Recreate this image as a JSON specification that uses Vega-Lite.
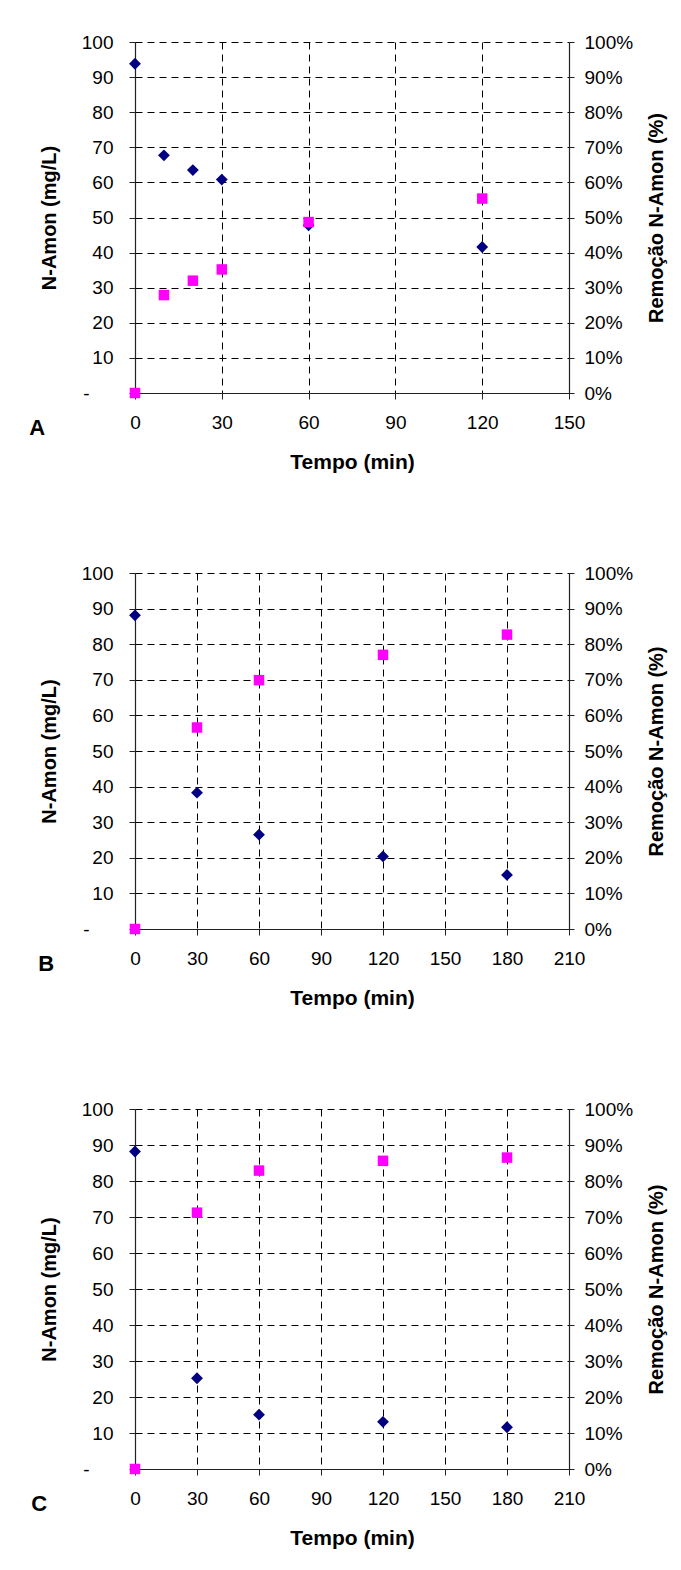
{
  "$schema": "https://vega.github.io/schema/vega-lite/v6.json",
  "padding": {"top": 33, "left": 29, "right": 5, "bottom": 5},
  "background": "white",
  "datasets": {
    "A": [
      {"t": 0, "conc": 93.8, "rem": 0},
      {"t": 10, "conc": 67.7, "rem": 27.9},
      {"t": 20, "conc": 63.5, "rem": 32.0},
      {"t": 30, "conc": 60.8, "rem": 35.2},
      {"t": 60, "conc": 47.8, "rem": 48.7},
      {"t": 120, "conc": 41.6, "rem": 55.4}
    ],
    "B": [
      {"t": 0, "conc": 88.1, "rem": 0},
      {"t": 30, "conc": 38.3, "rem": 56.6},
      {"t": 60, "conc": 26.5, "rem": 69.9},
      {"t": 120, "conc": 20.4, "rem": 77.0},
      {"t": 180, "conc": 15.2, "rem": 82.7}
    ],
    "C": [
      {"t": 0, "conc": 88.2, "rem": 0},
      {"t": 30, "conc": 25.2, "rem": 71.2},
      {"t": 60, "conc": 15.1, "rem": 82.9},
      {"t": 120, "conc": 13.1, "rem": 85.6},
      {"t": 180, "conc": 11.6, "rem": 86.5}
    ]
  },
  "spacing": 92,
  "vconcat": [
    {
      "width": 434, "height": 351,
      "data": {"name": "A"},
      "title": {"text": "A", "orient": "bottom", "anchor": "start", "frame": "bounds", "offset": -54, "dx": -10, "fontSize": 22, "fontWeight": "bold", "font": "Liberation Sans", "color": "#000"},
      "layer": [
        {
          "mark": {"type": "point", "shape": "diamond", "filled": true, "size": 140, "color": "#000080", "opacity": 1},
          "encoding": {
            "x": {"field": "t", "type": "quantitative", "scale": {"domain": [0, 150], "nice": false},
              "axis": {"title": "Tempo (min)", "titleFontSize": 21, "values": [0, 30, 60, 90, 120, 150], "tickSize": 6, "labelPadding": 14, "titlePadding": 19, "grid": true, "labelFlush": false, "labelOverlap": false}},
            "y": {"field": "conc", "type": "quantitative", "scale": {"domain": [0, 100], "nice": false},
              "axis": {"title": "N-Amon (mg/L)", "values": [0, 10, 20, 30, 40, 50, 60, 70, 80, 90, 100], "labelExpr": "datum.value == 0 ? '-' : datum.label", "labelPadding": {"condition": {"test": "datum.value == 0", "value": 40}, "value": 16}, "tickSize": 6, "titlePadding": 22, "grid": true, "labelOverlap": false}}
          }
        },
        {
          "mark": {"type": "point", "shape": "square", "filled": true, "size": 110, "color": "#FF00FF", "opacity": 1},
          "encoding": {
            "x": {"field": "t", "type": "quantitative"},
            "y": {"field": "rem", "type": "quantitative", "scale": {"domain": [0, 100], "nice": false},
              "axis": {"orient": "right", "title": "Remoção N-Amon (%)", "values": [0, 10, 20, 30, 40, 50, 60, 70, 80, 90, 100], "labelExpr": "datum.value + '%'", "grid": false, "tickSize": 5, "labelPadding": 10, "titleAngle": -90, "titleBaseline": "top", "titlePadding": 14, "labelOverlap": false}}
          }
        }
      ],
      "resolve": {"scale": {"y": "independent"}}
    },
    {
      "width": 434, "height": 356,
      "data": {"name": "B"},
      "title": {"text": "B", "orient": "bottom", "anchor": "start", "frame": "bounds", "offset": -54, "dx": -1, "fontSize": 22, "fontWeight": "bold", "font": "Liberation Sans", "color": "#000"},
      "layer": [
        {
          "mark": {"type": "point", "shape": "diamond", "filled": true, "size": 140, "color": "#000080", "opacity": 1},
          "encoding": {
            "x": {"field": "t", "type": "quantitative", "scale": {"domain": [0, 210], "nice": false},
              "axis": {"title": "Tempo (min)", "titleFontSize": 21, "values": [0, 30, 60, 90, 120, 150, 180, 210], "tickSize": 6, "labelPadding": 14, "titlePadding": 19, "grid": true, "labelFlush": false, "labelOverlap": false}},
            "y": {"field": "conc", "type": "quantitative", "scale": {"domain": [0, 100], "nice": false},
              "axis": {"title": "N-Amon (mg/L)", "values": [0, 10, 20, 30, 40, 50, 60, 70, 80, 90, 100], "labelExpr": "datum.value == 0 ? '-' : datum.label", "labelPadding": {"condition": {"test": "datum.value == 0", "value": 40}, "value": 16}, "tickSize": 6, "titlePadding": 22, "grid": true, "labelOverlap": false}}
          }
        },
        {
          "mark": {"type": "point", "shape": "square", "filled": true, "size": 110, "color": "#FF00FF", "opacity": 1},
          "encoding": {
            "x": {"field": "t", "type": "quantitative"},
            "y": {"field": "rem", "type": "quantitative", "scale": {"domain": [0, 100], "nice": false},
              "axis": {"orient": "right", "title": "Remoção N-Amon (%)", "values": [0, 10, 20, 30, 40, 50, 60, 70, 80, 90, 100], "labelExpr": "datum.value + '%'", "grid": false, "tickSize": 5, "labelPadding": 10, "titleAngle": -90, "titleBaseline": "top", "titlePadding": 14, "labelOverlap": false}}
          }
        }
      ],
      "resolve": {"scale": {"y": "independent"}}
    },
    {
      "width": 434, "height": 360,
      "data": {"name": "C"},
      "title": {"text": "C", "orient": "bottom", "anchor": "start", "frame": "bounds", "offset": -54, "dx": -8, "fontSize": 22, "fontWeight": "bold", "font": "Liberation Sans", "color": "#000"},
      "layer": [
        {
          "mark": {"type": "point", "shape": "diamond", "filled": true, "size": 140, "color": "#000080", "opacity": 1},
          "encoding": {
            "x": {"field": "t", "type": "quantitative", "scale": {"domain": [0, 210], "nice": false},
              "axis": {"title": "Tempo (min)", "titleFontSize": 21, "values": [0, 30, 60, 90, 120, 150, 180, 210], "tickSize": 6, "labelPadding": 14, "titlePadding": 19, "grid": true, "labelFlush": false, "labelOverlap": false}},
            "y": {"field": "conc", "type": "quantitative", "scale": {"domain": [0, 100], "nice": false},
              "axis": {"title": "N-Amon (mg/L)", "values": [0, 10, 20, 30, 40, 50, 60, 70, 80, 90, 100], "labelExpr": "datum.value == 0 ? '-' : datum.label", "labelPadding": {"condition": {"test": "datum.value == 0", "value": 40}, "value": 16}, "tickSize": 6, "titlePadding": 22, "grid": true, "labelOverlap": false}}
          }
        },
        {
          "mark": {"type": "point", "shape": "square", "filled": true, "size": 110, "color": "#FF00FF", "opacity": 1},
          "encoding": {
            "x": {"field": "t", "type": "quantitative"},
            "y": {"field": "rem", "type": "quantitative", "scale": {"domain": [0, 100], "nice": false},
              "axis": {"orient": "right", "title": "Remoção N-Amon (%)", "values": [0, 10, 20, 30, 40, 50, 60, 70, 80, 90, 100], "labelExpr": "datum.value + '%'", "grid": false, "tickSize": 5, "labelPadding": 10, "titleAngle": -90, "titleBaseline": "top", "titlePadding": 14, "labelOverlap": false}}
          }
        }
      ],
      "resolve": {"scale": {"y": "independent"}}
    }
  ],
  "config": {
    "font": "Liberation Sans",
    "view": {"stroke": null},
    "axis": {
      "labelFont": "Liberation Sans", "labelFontSize": 19, "labelColor": "#000",
      "titleFont": "Liberation Sans", "titleFontSize": 20, "titleFontWeight": "bold", "titleColor": "#000",
      "domainColor": "#222", "domainWidth": 1.2, "tickColor": "#222", "tickWidth": 1,
      "gridColor": "#000", "gridDash": [7, 5], "gridWidth": 1, "gridOpacity": 1
    }
  }
}
